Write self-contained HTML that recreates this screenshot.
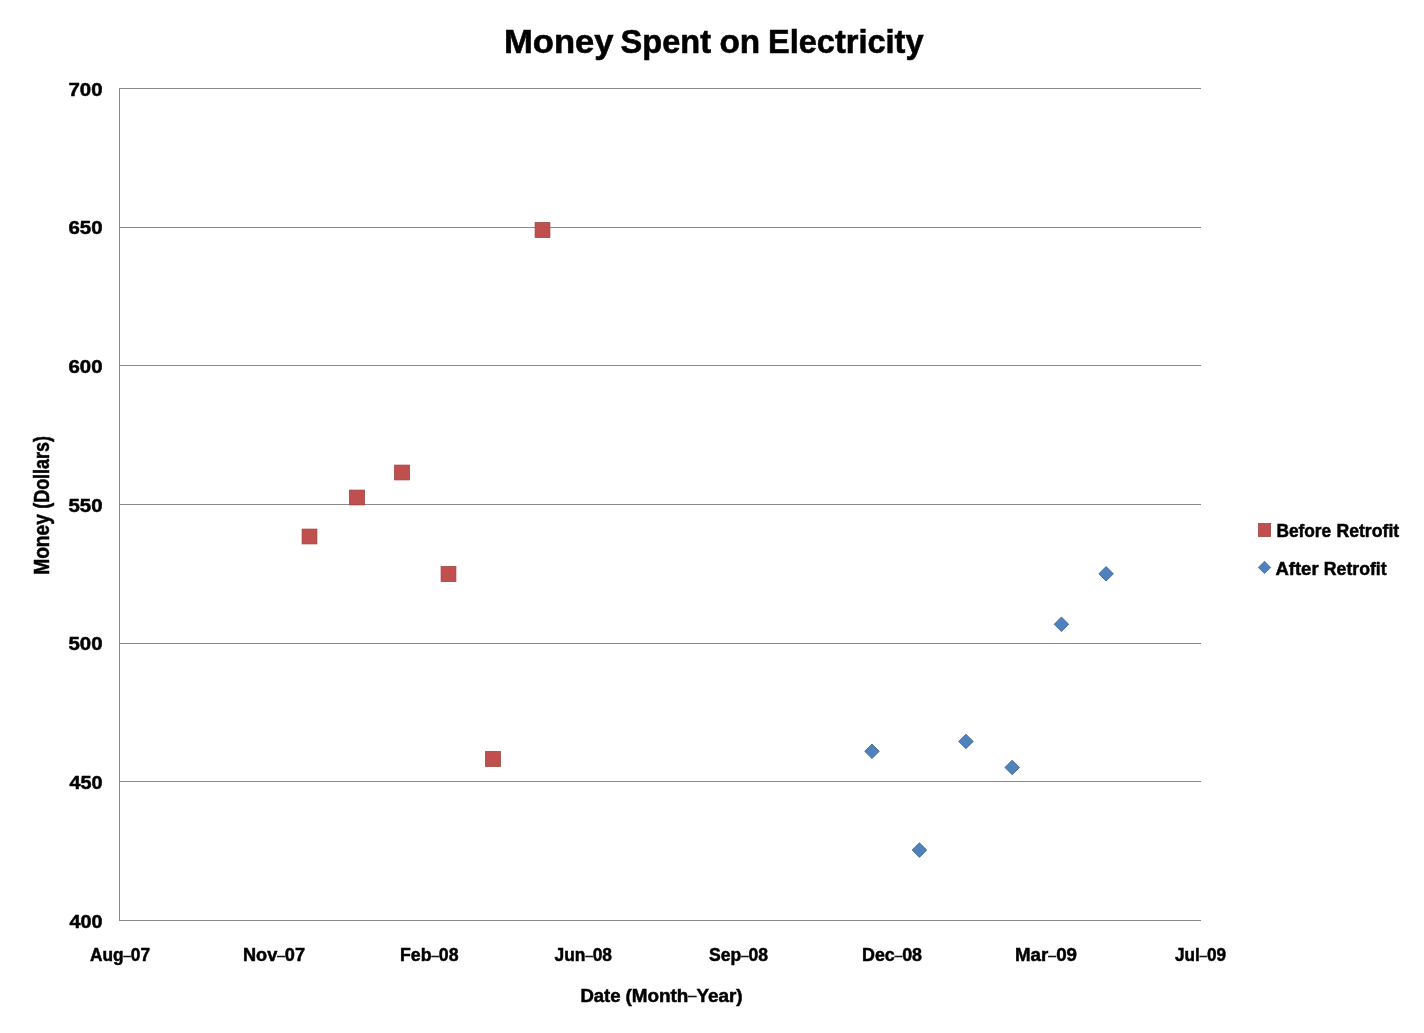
<!DOCTYPE html>
<html><head><meta charset="utf-8"><title>Money Spent on Electricity</title>
<style>html,body{margin:0;padding:0;background:#fff;width:1424px;height:1033px;overflow:hidden;font-family:"Liberation Sans",sans-serif;}</style>
</head><body>
<svg width="1424" height="1033" viewBox="0 0 1424 1033" style="position:absolute;left:0;top:0;will-change:transform">
<rect x="0" y="0" width="1424" height="1033" fill="#ffffff"/>
<rect x="119" y="88" width="1082" height="1" fill="#898989"/>
<rect x="119" y="227" width="1082" height="1" fill="#898989"/>
<rect x="119" y="365" width="1082" height="1" fill="#898989"/>
<rect x="119" y="504" width="1082" height="1" fill="#898989"/>
<rect x="119" y="643" width="1082" height="1" fill="#898989"/>
<rect x="119" y="781" width="1082" height="1" fill="#898989"/>
<rect x="119" y="920" width="1082" height="1" fill="#898989"/>
<rect x="119" y="88" width="1" height="833" fill="#898989"/>
<rect x="302.10" y="529.10" width="14.8" height="14.8" fill="#c0504d" stroke="#9e413e" stroke-width="0.8"/>
<rect x="349.60" y="490.10" width="14.8" height="14.8" fill="#c0504d" stroke="#9e413e" stroke-width="0.8"/>
<rect x="394.60" y="465.10" width="14.8" height="14.8" fill="#c0504d" stroke="#9e413e" stroke-width="0.8"/>
<rect x="441.10" y="566.60" width="14.8" height="14.8" fill="#c0504d" stroke="#9e413e" stroke-width="0.8"/>
<rect x="485.60" y="751.60" width="14.8" height="14.8" fill="#c0504d" stroke="#9e413e" stroke-width="0.8"/>
<rect x="535.10" y="222.60" width="14.8" height="14.8" fill="#c0504d" stroke="#9e413e" stroke-width="0.8"/>
<path d="M864.70,751.30 L872.00,744.00 L879.30,751.30 L872.00,758.60 Z" fill="#4f81bd" stroke="#3a6292" stroke-width="0.8"/>
<path d="M912.15,850.10 L919.45,842.80 L926.75,850.10 L919.45,857.40 Z" fill="#4f81bd" stroke="#3a6292" stroke-width="0.8"/>
<path d="M958.65,741.45 L965.95,734.15 L973.25,741.45 L965.95,748.75 Z" fill="#4f81bd" stroke="#3a6292" stroke-width="0.8"/>
<path d="M1004.90,767.45 L1012.20,760.15 L1019.50,767.45 L1012.20,774.75 Z" fill="#4f81bd" stroke="#3a6292" stroke-width="0.8"/>
<path d="M1054.15,624.30 L1061.45,617.00 L1068.75,624.30 L1061.45,631.60 Z" fill="#4f81bd" stroke="#3a6292" stroke-width="0.8"/>
<path d="M1098.80,573.80 L1106.10,566.50 L1113.40,573.80 L1106.10,581.10 Z" fill="#4f81bd" stroke="#3a6292" stroke-width="0.8"/>
<rect x="1258.35" y="523.35" width="12.3" height="13.3" fill="#c0504d" stroke="#9e413e" stroke-width="0.7"/>
<path d="M1258.30,567.40 L1264.50,561.20 L1270.70,567.40 L1264.50,573.60 Z" fill="#4f81bd" stroke="#3a6292" stroke-width="0.7"/>
<g font-family="Liberation Sans, sans-serif" font-weight="bold" fill="#000" stroke="#000">
<text x="504.00" y="53.00" font-size="34" stroke-width="0.6" textLength="109.53" lengthAdjust="spacingAndGlyphs">Money</text>
<text x="620.50" y="53.00" font-size="34" stroke-width="0.6" textLength="90.52" lengthAdjust="spacingAndGlyphs">Spent</text>
<text x="719.50" y="53.00" font-size="34" stroke-width="0.6" textLength="40.75" lengthAdjust="spacingAndGlyphs">on</text>
<text x="768.00" y="53.00" font-size="34" stroke-width="0.6" textLength="155.52" lengthAdjust="spacingAndGlyphs">Electricity</text>
<text x="68.50" y="96.00" font-size="18" stroke-width="0.5" textLength="34.00" lengthAdjust="spacingAndGlyphs">700</text>
<text x="68.50" y="234.00" font-size="18" stroke-width="0.5" textLength="34.00" lengthAdjust="spacingAndGlyphs">650</text>
<text x="68.50" y="373.00" font-size="18" stroke-width="0.5" textLength="34.00" lengthAdjust="spacingAndGlyphs">600</text>
<text x="68.50" y="512.00" font-size="18" stroke-width="0.5" textLength="34.00" lengthAdjust="spacingAndGlyphs">550</text>
<text x="68.50" y="650.00" font-size="18" stroke-width="0.5" textLength="34.00" lengthAdjust="spacingAndGlyphs">500</text>
<text x="69.50" y="789.00" font-size="18" stroke-width="0.5" textLength="33.00" lengthAdjust="spacingAndGlyphs">450</text>
<text x="69.50" y="928.00" font-size="18" stroke-width="0.5" textLength="33.00" lengthAdjust="spacingAndGlyphs">400</text>
<text x="90.00" y="961.00" font-size="18" stroke-width="0.5" textLength="60.00" lengthAdjust="spacingAndGlyphs">Aug<tspan font-size="13.5" font-weight="normal" stroke-width="0.4" dy="-1.5">&#8211;</tspan><tspan dy="1.5">07</tspan></text>
<text x="243.00" y="961.00" font-size="18" stroke-width="0.5" textLength="62.00" lengthAdjust="spacingAndGlyphs">Nov<tspan font-size="13.5" font-weight="normal" stroke-width="0.4" dy="-1.5">&#8211;</tspan><tspan dy="1.5">07</tspan></text>
<text x="400.00" y="961.00" font-size="18" stroke-width="0.5" textLength="58.51" lengthAdjust="spacingAndGlyphs">Feb<tspan font-size="13.5" font-weight="normal" stroke-width="0.4" dy="-1.5">&#8211;</tspan><tspan dy="1.5">08</tspan></text>
<text x="554.50" y="961.00" font-size="18" stroke-width="0.5" textLength="57.51" lengthAdjust="spacingAndGlyphs">Jun<tspan font-size="13.5" font-weight="normal" stroke-width="0.4" dy="-1.5">&#8211;</tspan><tspan dy="1.5">08</tspan></text>
<text x="709.00" y="961.00" font-size="18" stroke-width="0.5" textLength="59.00" lengthAdjust="spacingAndGlyphs">Sep<tspan font-size="13.5" font-weight="normal" stroke-width="0.4" dy="-1.5">&#8211;</tspan><tspan dy="1.5">08</tspan></text>
<text x="862.00" y="961.00" font-size="18" stroke-width="0.5" textLength="60.02" lengthAdjust="spacingAndGlyphs">Dec<tspan font-size="13.5" font-weight="normal" stroke-width="0.4" dy="-1.5">&#8211;</tspan><tspan dy="1.5">08</tspan></text>
<text x="1015.00" y="961.00" font-size="18" stroke-width="0.5" textLength="62.00" lengthAdjust="spacingAndGlyphs">Mar<tspan font-size="13.5" font-weight="normal" stroke-width="0.4" dy="-1.5">&#8211;</tspan><tspan dy="1.5">09</tspan></text>
<text x="1175.00" y="961.00" font-size="18" stroke-width="0.5" textLength="51.00" lengthAdjust="spacingAndGlyphs">Jul<tspan font-size="13.5" font-weight="normal" stroke-width="0.4" dy="-1.5">&#8211;</tspan><tspan dy="1.5">09</tspan></text>
<text x="580.40" y="1001.50" font-size="17.5" stroke-width="0.5" textLength="40.24" lengthAdjust="spacingAndGlyphs">Date</text>
<text x="625.40" y="1001.50" font-size="17.5" stroke-width="0.5" textLength="117.21" lengthAdjust="spacingAndGlyphs">(Month<tspan font-size="13.5" font-weight="normal" stroke-width="0.4" dy="-1.5">&#8211;</tspan><tspan dy="1.5">Year)</tspan></text>
<text transform="translate(49.00,574.80) rotate(-90)" x="0" y="0" font-size="21.5" stroke-width="0.5" textLength="60.63" lengthAdjust="spacingAndGlyphs">Money</text>
<text transform="translate(49.00,508.80) rotate(-90)" x="0" y="0" font-size="21.5" stroke-width="0.5" textLength="72.84" lengthAdjust="spacingAndGlyphs">(Dollars)</text>
<text x="1276.40" y="537.00" font-size="18" stroke-width="0.5" textLength="54.82" lengthAdjust="spacingAndGlyphs">Before</text>
<text x="1336.40" y="537.00" font-size="18" stroke-width="0.5" textLength="62.81" lengthAdjust="spacingAndGlyphs">Retrofit</text>
<text x="1275.40" y="574.70" font-size="18" stroke-width="0.5" textLength="43.21" lengthAdjust="spacingAndGlyphs">After</text>
<text x="1323.80" y="574.70" font-size="18" stroke-width="0.5" textLength="62.81" lengthAdjust="spacingAndGlyphs">Retrofit</text>
</g></svg>
</body></html>
